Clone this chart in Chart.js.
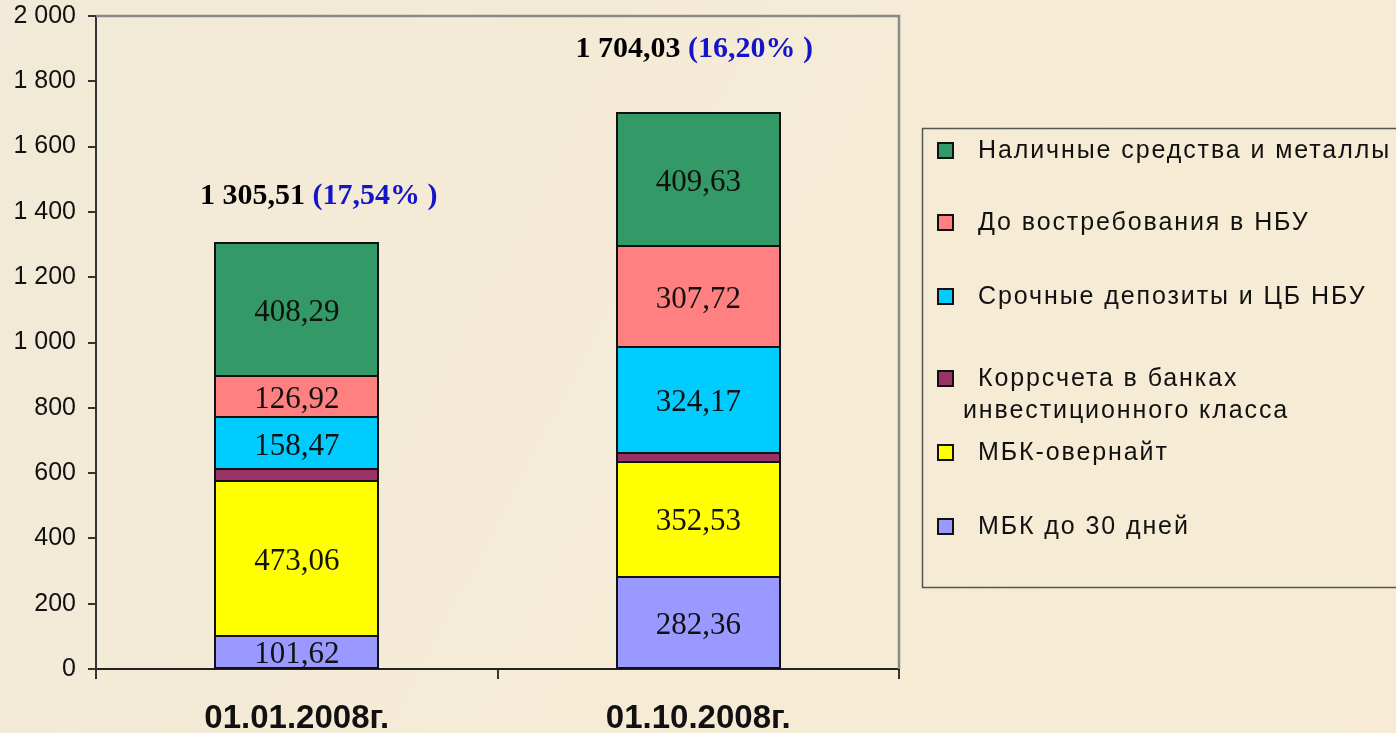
<!DOCTYPE html>
<html>
<head>
<meta charset="utf-8">
<script src="https://cdn.jsdelivr.net/npm/chart.js@4/dist/chart.umd.min.js"></script>
<style>
html,body{margin:0;padding:0;background:#f3ebd8;}
#wrap{width:1396px;height:733px;position:relative;}
</style>
</head>
<body>
<div id="wrap"><canvas id="c" width="1396" height="733"></canvas></div>
<script>
const categories = ['01.01.2008г.', '01.10.2008г.'];
const seriesNames = ['МБК до 30 дней', 'МБК-овернайт', 'Коррсчета в банках инвестиционного класса', 'Срочные депозиты и ЦБ НБУ', 'До востребования в НБУ', 'Наличные средства и металлы'];
const mbk30 = [101.62, 282.36];
const mbkOvernight = [473.06, 352.53];
const korrscheta = [37.15, 27.62];
const srochnye = [158.47, 324.17];
const doVostreb = [126.92, 307.72];
const nalichnye = [408.29, 409.63];
const totals = ['1 305,51', '1 704,03'];
const shares = ['(17,54% )', '(16,20% )'];
const yTicks = [0, 200, 400, 600, 800, 1000, 1200, 1400, 1600, 1800, 2000];
const legendLines = [
  ['Наличные средства и металлы'],
  ['До востребования в НБУ'],
  ['Срочные депозиты и ЦБ НБУ'],
  ['Коррсчета в банках', 'инвестиционного класса'],
  ['МБК-овернайт'],
  ['МБК до 30 дней']
];

const colors = ['#9999FF', '#FFFF00', '#993366', '#00CCFF', '#FF8080', '#339966'];
const seriesData = [mbk30, mbkOvernight, korrscheta, srochnye, doVostreb, nalichnye];

const fmt = v => v.toFixed(2).replace('.', ',');
const fmtTick = v => String(v).replace(/\B(?=(\d{3})+(?!\d))/g, ' ');

const bgPlugin = {
  id: 'bg',
  beforeDraw(chart) {
    const ctx = chart.ctx, w = chart.width, h = chart.height;
    ctx.save();
    const g = ctx.createLinearGradient(0, 0, w, h);
    g.addColorStop(0, '#f1ead8');
    g.addColorStop(0.5, '#f5ebd6');
    g.addColorStop(1, '#f7ebd4');
    ctx.fillStyle = g;
    ctx.fillRect(0, 0, w, h);
    ctx.restore();
  },
  afterDatasetsDraw(chart) {
    const ctx = chart.ctx;
    ctx.save();
    ctx.strokeStyle = '#111';
    ctx.lineWidth = 2;
    chart.data.datasets.forEach((ds, di) => {
      chart.getDatasetMeta(di).data.forEach(el => {
        const l = Math.round(el.x - el.width / 2), r = Math.round(el.x + el.width / 2);
        const t = Math.round(Math.min(el.y, el.base)), b = Math.round(Math.max(el.y, el.base));
        ctx.strokeRect(l, t, r - l, b - t);
      });
    });
    ctx.restore();
  },
  afterDraw(chart) {
    const ctx = chart.ctx, a = chart.chartArea;
    ctx.save();
    ctx.strokeStyle = '#8a8a8a';
    ctx.lineWidth = 2.5;
    ctx.beginPath();
    ctx.moveTo(a.left, a.top);
    ctx.lineTo(a.right, a.top);
    ctx.lineTo(a.right, a.bottom);
    ctx.stroke();

    ctx.font = '31px "Liberation Serif", "Times New Roman", serif';
    ctx.fillStyle = '#111';
    ctx.textAlign = 'center';
    ctx.textBaseline = 'middle';
    chart.data.datasets.forEach((ds, di) => {
      if (ds.noLabel) return;
      const meta = chart.getDatasetMeta(di);
      meta.data.forEach((el, i) => {
        const cy = (el.y + el.base) / 2 + 3;
        ctx.fillText(fmt(ds.data[i]), el.x, cy);
      });
    });

    const topMeta = chart.getDatasetMeta(chart.data.datasets.length - 1);
    const dx = [22, -4], dy = [-47, -63];
    topMeta.data.forEach((el, i) => {
      ctx.font = 'bold 30px "Liberation Serif", "Times New Roman", serif';
      const t1 = totals[i] + ' ';
      const t2 = shares[i];
      const w1 = ctx.measureText(t1).width, w2 = ctx.measureText(t2).width;
      const x0 = el.x + dx[i] - (w1 + w2) / 2;
      const y = el.y + dy[i];
      ctx.textAlign = 'left';
      ctx.fillStyle = '#000';
      ctx.fillText(t1, x0, y);
      ctx.fillStyle = '#1414c8';
      ctx.fillText(t2, x0 + w1, y);
    });

    const lx = 922, ly = 128, lw = 480, lh = 459;
    ctx.strokeStyle = '#555';
    ctx.lineWidth = 1.5;
    ctx.strokeRect(lx + 0.5, ly + 0.5, lw, lh);
    const rowY = [150, 222, 296, 378, 452, 526];
    const legendColors = colors.slice().reverse();
    ctx.font = '25px "Liberation Sans", Arial, sans-serif';
    ctx.textAlign = 'left';
    ctx.textBaseline = 'middle';
    try { ctx.letterSpacing = '1.9px'; } catch (e) {}
    legendLines.forEach((lines, i) => {
      const y = rowY[i];
      ctx.fillStyle = legendColors[i];
      ctx.fillRect(938, y - 7, 15, 15);
      ctx.strokeStyle = '#111';
      ctx.lineWidth = 2;
      ctx.strokeRect(938, y - 7, 15, 15);
      ctx.fillStyle = '#111';
      ctx.fillText(lines[0], 978, y + 1);
      if (lines[1]) ctx.fillText(lines[1], 963, y + 33);
    });
    ctx.restore();
  }
};

new Chart(document.getElementById('c'), {
  type: 'bar',
  data: {
    labels: categories,
    datasets: seriesData.map((d, i) => ({
      label: seriesNames[i],
      data: d,
      backgroundColor: colors[i],
      borderWidth: 0,
      noLabel: i === 2,
      categoryPercentage: 1,
      barPercentage: 0.405
    }))
  },
  options: {
    responsive: false,
    animation: false,
    events: [],
    layout: { padding: { top: 16, right: 497, left: 0, bottom: 0 } },
    plugins: { legend: { display: false }, tooltip: { enabled: false } },
    scales: {
      x: {
        stacked: true,
        afterFit(s) { s.height = 64; s.paddingLeft = 0; s.paddingRight = 0; },
        grid: { display: true, drawOnChartArea: false, drawTicks: true, tickLength: 10, color: '#333', lineWidth: 2, offset: true },
        border: { display: true, color: '#222', width: 2 },
        ticks: { color: '#111', padding: 20, font: { family: '"Liberation Sans", Arial, sans-serif', size: 33, weight: 'bold' } }
      },
      y: {
        stacked: true,
        min: 0, max: 2000,
        afterFit(s) { s.width = 96; s.paddingTop = 0; s.paddingBottom = 0; },
        afterBuildTicks(s) { s.ticks = yTicks.map(v => ({ value: v })); },
        grid: { display: true, drawOnChartArea: false, drawTicks: true, tickLength: 8, color: '#333', lineWidth: 2 },
        border: { display: true, color: '#333', width: 2 },
        ticks: { color: '#111', padding: 12, callback: v => fmtTick(v), font: { family: '"Liberation Sans", Arial, sans-serif', size: 25 } }
      }
    }
  },
  plugins: [bgPlugin]
});
</script>
</body>
</html>
